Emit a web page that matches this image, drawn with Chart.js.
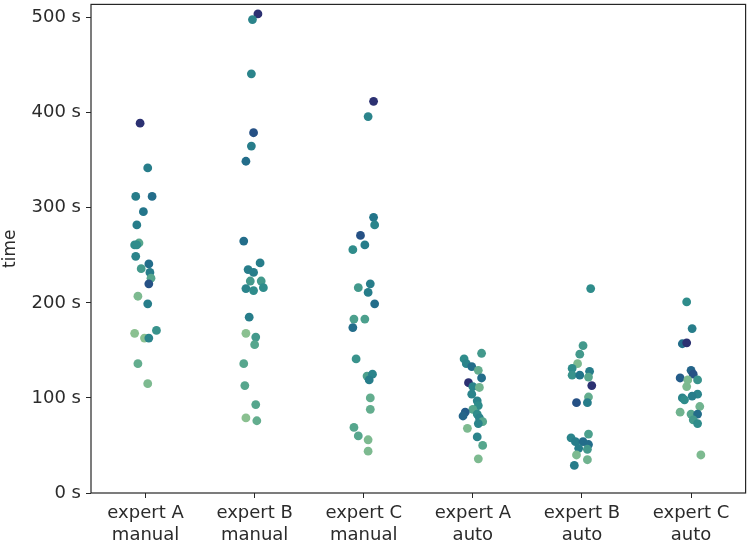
<!DOCTYPE html>
<html>
<head>
<meta charset="utf-8">
<script src="https://cdn.jsdelivr.net/npm/chart.js@4"></script>
<style>
html,body{margin:0;padding:0;background:#fff;}
#wrap{width:750px;height:544px;}
</style>
</head>
<body>
<div id="wrap"><canvas id="c" width="750" height="544"></canvas></div>
<script>
// Categories (x tick labels, two lines)
const categories = [
  ["expert A","manual"],["expert B","manual"],["expert C","manual"],
  ["expert A","auto"],["expert B","auto"],["expert C","auto"]
];
const yTicks = [0,100,200,300,400,500];

// Values (seconds), strip jitter (category units) and hue (0 light .. 1 dark) per group
const valuesAManual = [389,342,312,312,296,282,263,261,261,249,241,236,232,226,220,207,199,171,168,163,163,136,115];
const jitterAManual = [-0.05,0.02,-0.09,0.06,-0.02,-0.08,-0.06,-0.10,-0.08,-0.09,0.03,-0.04,0.04,0.05,0.03,-0.07,0.02,0.10,-0.10,-0.01,0.03,-0.07,0.02];
const hueAManual    = [1.0,0.6,0.6,0.7,0.65,0.6,0.3,0.5,0.5,0.55,0.7,0.4,0.6,0.3,0.85,0.15,0.6,0.45,0.1,0.1,0.55,0.25,0.15];

const valuesBManual = [504,498,441,379,365,349,265,242,235,232,223,223,215,213,216,185,168,164,156,136,113,93,79,76];
const jitterBManual = [0.03,-0.02,-0.03,-0.01,-0.03,-0.08,-0.10,0.05,-0.06,-0.01,-0.04,0.06,-0.08,-0.01,0.08,-0.05,-0.08,0.01,0,-0.10,-0.09,0.01,-0.08,0.02];
const hueBManual    = [1.0,0.55,0.55,0.85,0.6,0.7,0.7,0.6,0.6,0.6,0.4,0.4,0.55,0.5,0.5,0.6,0.1,0.4,0.3,0.3,0.3,0.3,0.1,0.25];

const valuesCManual = [412,396,290,282,271,261,256,216,220,211,199,183,183,174,141,123,125,119,100,88,69,60,56,44];
const jitterCManual = [0.09,0.04,0.09,0.10,-0.03,0.01,-0.10,-0.05,0.06,0.04,0.10,-0.09,0.01,-0.10,-0.07,0.03,0.08,0.05,0.06,0.06,-0.09,-0.05,0.04,0.04];
const hueCManual    = [1.0,0.55,0.65,0.55,0.85,0.6,0.5,0.4,0.6,0.6,0.7,0.35,0.35,0.7,0.45,0.35,0.55,0.6,0.25,0.25,0.3,0.3,0.15,0.15];

const valuesAAuto = [147,141,136,133,129,121,116,112,111,104,97,92,88,85,81,83,79,75,73,68,59,50,36];
const jitterAAuto = [0.08,-0.08,-0.06,-0.01,0.05,0.08,-0.04,0,0.06,-0.01,0.04,0.05,0,-0.07,-0.09,0.04,0.06,0.09,0.05,-0.05,0.04,0.09,0.05];
const hueAAuto    = [0.4,0.5,0.55,0.7,0.25,0.7,1.0,0.55,0.2,0.55,0.55,0.5,0.3,0.8,0.75,0.5,0.55,0.3,0.55,0.15,0.55,0.3,0.15];

const valuesBAuto = [215,155,146,136,131,124,124,128,122,113,101,95,95,62,58,54,54,51,47,46,40,35,29];
const jitterBAuto = [0.08,0.01,-0.02,-0.04,-0.09,-0.09,-0.02,0.07,0.06,0.09,0.06,-0.05,0.05,0.06,-0.10,-0.06,0.01,0.06,-0.03,0.05,-0.05,0.05,-0.07];
const hueBAuto    = [0.5,0.4,0.4,0.15,0.5,0.45,0.65,0.6,0.3,1.0,0.25,0.85,0.6,0.35,0.55,0.6,0.7,0.7,0.6,0.4,0.15,0.2,0.6];

const valuesCAuto = [201,173,157,158,129,125,121,119,119,112,104,102,100,98,91,85,83,83,77,73,40];
const jitterCAuto = [-0.04,0.01,-0.08,-0.04,0,0.02,-0.10,0.06,-0.03,-0.04,0.06,0.01,-0.08,-0.06,0.08,-0.10,0,0.06,0.02,0.06,0.09];
const hueCAuto    = [0.5,0.6,0.7,1.0,0.75,0.85,0.8,0.45,0.15,0.15,0.55,0.6,0.55,0.5,0.2,0.2,0.3,0.7,0.4,0.5,0.15];

const groups = [
  [valuesAManual, jitterAManual, hueAManual],
  [valuesBManual, jitterBManual, hueBManual],
  [valuesCManual, jitterCManual, hueCManual],
  [valuesAAuto, jitterAAuto, hueAAuto],
  [valuesBAuto, jitterBAuto, hueBAuto],
  [valuesCAuto, jitterCAuto, hueCAuto]
];

// crest-like colormap
const crestStops = [
  [0.00,[165,205,144]],
  [0.15,[125,186,144]],
  [0.30,[86,166,141]],
  [0.50,[47,140,139]],
  [0.65,[35,117,138]],
  [0.80,[36,92,137]],
  [0.90,[40,70,128]],
  [1.00,[44,49,114]]
];
function crest(t){
  t=Math.max(0,Math.min(1,t));
  for(let i=1;i<crestStops.length;i++){
    const [t1,c1]=crestStops[i];
    const [t0,c0]=crestStops[i-1];
    if(t<=t1){
      const f=(t-t0)/(t1-t0);
      return 'rgb('+c0.map((v,k)=>Math.round(v+(c1[k]-v)*f)).join(',')+')';
    }
  }
  return 'rgb(44,49,114)';
}

const points=[], colors=[];
groups.forEach((g,gi)=>{
  const [vals,jit,hue]=g;
  vals.forEach((v,i)=>{
    points.push({x: gi + jit[i], y: v});
    colors.push(crest(hue[i]));
  });
});

const TEXT='#2b2b2b';
const frame={
  id:'frame',
  afterDatasetsDraw(chart){
    const {ctx,chartArea:a}=chart;
    ctx.save();
    ctx.strokeStyle='#262626';
    ctx.lineWidth=1.2;
    ctx.strokeRect(a.left,a.top,a.right-a.left,a.bottom-a.top);
    ctx.restore();
  }
};

new Chart(document.getElementById('c'),{
  type:'scatter',
  data:{datasets:[{
    data:points,
    backgroundColor:colors,
    borderWidth:0,
    pointRadius:4.4,
    pointHoverRadius:4.4
  }]},
  options:{
    responsive:false,
    animation:false,
    devicePixelRatio:1,
    layout:{padding:{top:3,right:3,left:0,bottom:0}},
    plugins:{legend:{display:false},tooltip:{enabled:false}},
    scales:{
      x:{
        type:'linear',min:-0.5,max:5.5,
        afterFit(s){s.height=51;s.paddingLeft=0;s.paddingRight=0;},
        afterBuildTicks(s){s.ticks=categories.map((c,i)=>({value:i}));},
        ticks:{
          autoSkip:false,maxRotation:0,padding:5,color:TEXT,
          font:{family:'DejaVu Sans',size:18},
          callback:(v)=>categories[v]
        },
        grid:{display:true,drawOnChartArea:false,drawTicks:true,tickLength:5,color:'#262626',lineWidth:1},
        border:{display:false}
      },
      y:{
        min:0,max:514,
        afterFit(s){s.width=91;s.paddingTop=0;s.paddingBottom=0;},
        afterBuildTicks(s){s.ticks=yTicks.map(v=>({value:v}));},
        ticks:{
          padding:5,color:TEXT,
          font:{family:'DejaVu Sans',size:18},
          callback:(v)=>v+' s'
        },
        title:{display:true,text:'time',color:TEXT,font:{family:'DejaVu Sans',size:17},padding:{top:0,bottom:4}},
        grid:{display:true,drawOnChartArea:false,drawTicks:true,tickLength:5,color:'#262626',lineWidth:1},
        border:{display:false}
      }
    }
  },
  plugins:[frame]
});
</script>
</body>
</html>
